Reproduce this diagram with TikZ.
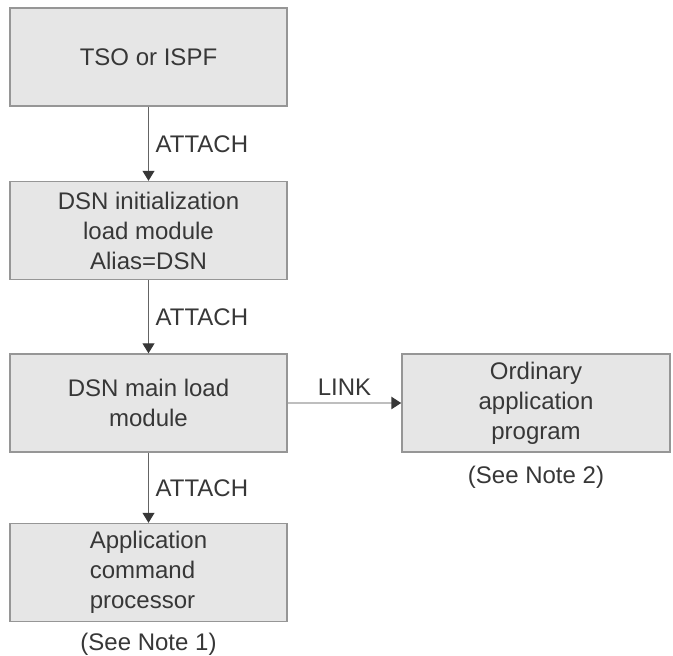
\documentclass[tikz,border=0pt]{standalone}
\usepackage{fontspec}
\setmainfont{Liberation Sans}
\usetikzlibrary{arrows.meta}
\definecolor{boxfill}{RGB}{230,230,230}
\definecolor{boxline}{RGB}{150,150,150}
\definecolor{txtgray}{RGB}{55,55,55}
\definecolor{attachgray}{RGB}{100,100,100}
\definecolor{linkgray}{RGB}{190,190,190}

\begin{document}
\begin{tikzpicture}[x=0.5pt, y=-0.5pt,
    every node/.style={text=txtgray, font=\fontsize{12}{15}\selectfont},
    box/.style={draw=boxline, fill=boxfill, line width=0.7pt,
      minimum width=138.5pt, minimum height=49pt, inner sep=0pt, align=center},
    attach/.style={draw=attachgray, line width=0.5pt,
      -{Triangle[width=6pt, length=5pt, color=txtgray]}},
    link/.style={draw=linkgray, line width=1.3pt,
      -{Triangle[width=6pt, length=5pt, color=txtgray]}}]
    \useasboundingbox (0,0) rectangle (673,656);
    \node[box] (tso) at (148.5,57) {TSO or ISPF};
    \node[box] (init) at (148.5,230.5) {DSN initialization\\load module\\Alias=DSN};
    \node[box] (main) at (148.5,403) {DSN main load\\module};
    \node[box, align=left] (appl) at (148.5,572.5) {Application\\command\\processor};
    \node[box, minimum width=134pt] (ord) at (536,403) {Ordinary\\application\\program};
    \node (note1) [below, yshift=-2pt] at (appl.south) {(See Note 1)};
    \node (note2) [below, yshift=-3pt] at (ord.south) {(See Note 2)};
    \draw[attach] (tso) to node[right] {ATTACH} (init);
    \draw[attach] (init) to node[right] {ATTACH} (main);
    \draw[attach] (main) to node[right] {ATTACH} (appl);
    \draw[link] (main) to node[above] {LINK} (ord);
\end{tikzpicture}
\end{document}
